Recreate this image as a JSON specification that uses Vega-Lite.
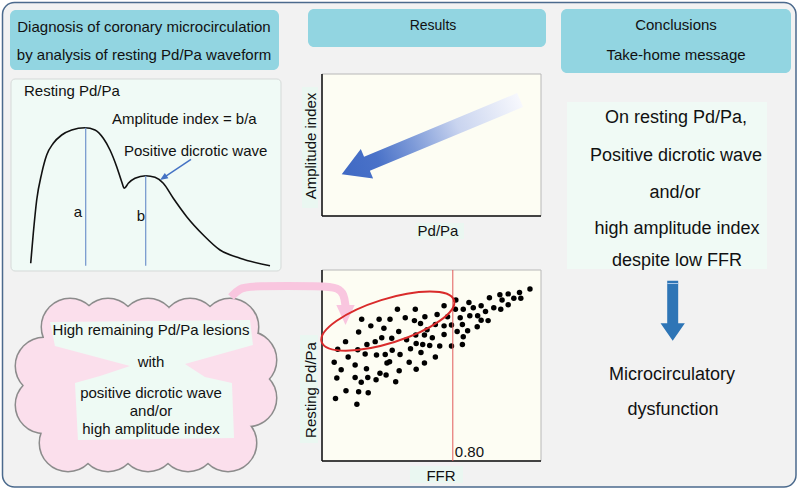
{
  "$schema": "https://vega.github.io/schema/vega-lite/v6.json",
  "width": 799,
  "height": 490,
  "autosize": {"type": "fit", "contains": "padding"},
  "padding": 0,
  "background": "#ffffff",
  "config": {"view": {"stroke": null}, "axis": {"disable": true}, "font": "Liberation Sans"},
  "resolve": {"scale": {"x": "independent", "y": "independent"}},
  "layer": [
    {
      "encoding": {
        "x": {"field": "x", "type": "quantitative", "axis": null, "scale": {"domain": [0, 799], "range": [0, 799], "nice": false, "zero": false}},
        "y": {"field": "y", "type": "quantitative", "axis": null, "scale": {"domain": [0, 490], "range": [0, 490], "nice": false, "zero": false}}
      },
      "layer": [
        {
          "data": {"values": [{"x": 2.5, "y": 2.5, "x2": 796, "y2": 487}]},
          "mark": {"type": "rect", "fill": "#f2f2f2", "stroke": "#4b6a8d", "strokeWidth": 1.5, "cornerRadius": 12},
          "encoding": {"x2": {"field": "x2"}, "y2": {"field": "y2"}}
        },
        {
          "data": {"values": [
            {"x": 10, "y": 10, "x2": 279, "y2": 70},
            {"x": 308, "y": 9, "x2": 546, "y2": 47},
            {"x": 561, "y": 9, "x2": 791, "y2": 73}
          ]},
          "mark": {"type": "rect", "fill": "#92d5e1", "cornerRadius": 6},
          "encoding": {"x2": {"field": "x2"}, "y2": {"field": "y2"}}
        },
        {
          "data": {"values": [{"x": 11, "y": 79, "x2": 281, "y2": 271}]},
          "mark": {"type": "rect", "fill": "#f0faf6", "stroke": "#d5d9d8", "strokeWidth": 1, "cornerRadius": 4},
          "encoding": {"x2": {"field": "x2"}, "y2": {"field": "y2"}}
        },
        {
          "data": {"values": [{"x": 567, "y": 102, "x2": 767, "y2": 269}]},
          "mark": {"type": "rect", "fill": "#f0faf5"},
          "encoding": {"x2": {"field": "x2"}, "y2": {"field": "y2"}}
        },
        {
          "data": {"values": [
            {"x": 322, "y": 74, "x2": 541, "y2": 216},
            {"x": 322, "y": 270, "x2": 541, "y2": 461}
          ]},
          "mark": {"type": "rect", "fill": "#fdfdf3", "stroke": "#b8b8b8", "strokeWidth": 1},
          "encoding": {"x2": {"field": "x2"}, "y2": {"field": "y2"}}
        },
        {
          "data": {"values": [
            {"x": 302, "y": 87, "x2": 318, "y2": 208},
            {"x": 416, "y": 223, "x2": 464, "y2": 239},
            {"x": 300, "y": 335, "x2": 318, "y2": 443},
            {"x": 410, "y": 466, "x2": 463, "y2": 483}
          ]},
          "mark": {"type": "rect", "fill": "#eaf7f1"},
          "encoding": {"x2": {"field": "x2"}, "y2": {"field": "y2"}}
        },
        {
          "data": {"values": [
            {"x": 322, "y": 74, "x2": 322, "y2": 216},
            {"x": 322, "y": 216, "x2": 541, "y2": 216},
            {"x": 322, "y": 270, "x2": 322, "y2": 461},
            {"x": 322, "y": 461, "x2": 541, "y2": 461}
          ]},
          "mark": {"type": "rule", "color": "#111111", "strokeWidth": 1.5},
          "encoding": {"x2": {"field": "x2"}, "y2": {"field": "y2"}}
        },
        {
          "data": {"values": [
            {"x": 30.7, "y": 263.3}, {"x": 33.3, "y": 233.3}, {"x": 36.7, "y": 200}, {"x": 41.7, "y": 173.3},
            {"x": 46.7, "y": 155}, {"x": 53.3, "y": 143.3}, {"x": 61.7, "y": 135}, {"x": 71.7, "y": 130},
            {"x": 85, "y": 127.7}, {"x": 95, "y": 130}, {"x": 103.3, "y": 138.3}, {"x": 110, "y": 150},
            {"x": 116.7, "y": 166.7}, {"x": 121.7, "y": 181.7}, {"x": 124.3, "y": 188.3}, {"x": 128.3, "y": 183.3},
            {"x": 135, "y": 178.3}, {"x": 145.7, "y": 175.7}, {"x": 155, "y": 177.3}, {"x": 163.3, "y": 183.3},
            {"x": 173.3, "y": 198.3}, {"x": 186.7, "y": 216.7}, {"x": 203.3, "y": 235}, {"x": 220, "y": 250},
            {"x": 240, "y": 258.3}, {"x": 270, "y": 265.7}
          ]},
          "mark": {"type": "line", "color": "#111111", "strokeWidth": 1.6, "interpolate": "monotone"},
          "encoding": {}
        },
        {
          "data": {"values": [
            {"x": 85.7, "y": 127.7, "x2": 85.7, "y2": 265.7},
            {"x": 145.7, "y": 175.7, "x2": 145.7, "y2": 265.7}
          ]},
          "mark": {"type": "rule", "color": "#7094cc", "strokeWidth": 1.2},
          "encoding": {"x2": {"field": "x2"}, "y2": {"field": "y2"}}
        },
        {
          "data": {"values": [{"x": 191, "y": 159.3, "x2": 163.3, "y2": 177.8}]},
          "mark": {"type": "rule", "color": "#4472c4", "strokeWidth": 1.5},
          "encoding": {"x2": {"field": "x2"}, "y2": {"field": "y2"}}
        },
        {
          "data": {"values": [{"x": 163.3, "y": 177.8}]},
          "mark": {"type": "point", "shape": "M0,-1 L0.8,1 L-0.8,1 Z", "size": 64, "angle": 236, "filled": true, "color": "#4472c4", "opacity": 1},
          "encoding": {}
        },
        {
          "data": {"values": [
            {"x": 70, "y": 327}, {"x": 108, "y": 327}, {"x": 148, "y": 327}, {"x": 190, "y": 327}, {"x": 230, "y": 327},
            {"x": 248, "y": 360}, {"x": 248, "y": 398},
            {"x": 228, "y": 443}, {"x": 188, "y": 443}, {"x": 148, "y": 443}, {"x": 108, "y": 443}, {"x": 68, "y": 443},
            {"x": 44, "y": 405}, {"x": 44, "y": 366}
          ]},
          "mark": {"type": "point", "shape": "circle", "size": 3136, "filled": true, "fill": "#fbdfec", "stroke": "#8c8c8c", "strokeWidth": 3, "opacity": 1},
          "encoding": {}
        },
        {
          "data": {"values": [
            {"x": 70, "y": 327}, {"x": 108, "y": 327}, {"x": 148, "y": 327}, {"x": 190, "y": 327}, {"x": 230, "y": 327},
            {"x": 248, "y": 360}, {"x": 248, "y": 398},
            {"x": 228, "y": 443}, {"x": 188, "y": 443}, {"x": 148, "y": 443}, {"x": 108, "y": 443}, {"x": 68, "y": 443},
            {"x": 44, "y": 405}, {"x": 44, "y": 366}
          ]},
          "mark": {"type": "point", "shape": "circle", "size": 3136, "filled": true, "fill": "#fbdfec", "strokeWidth": 0, "opacity": 1},
          "encoding": {}
        },
        {
          "data": {"values": [{"x": 44, "y": 327, "x2": 248, "y2": 443}]},
          "mark": {"type": "rect", "fill": "#fbdfec"},
          "encoding": {"x2": {"field": "x2"}, "y2": {"field": "y2"}}
        },
        {
          "data": {"values": [{"x": 150, "y": 380}]},
          "mark": {
            "type": "point",
            "shape": "M-0.909,-0.527 L0.909,-0.545 L0.936,-0.318 L0.318,-0.145 L0.5,-0.027 L0.745,0.027 L0.764,0.527 L-0.655,0.545 L-0.682,0.027 L-0.455,-0.036 L-0.182,-0.127 L-0.864,-0.309 Z",
            "size": 48400,
            "filled": true,
            "color": "#eefaf4",
            "strokeWidth": 0,
            "opacity": 1
          },
          "encoding": {}
        },
        {
          "data": {"values": [
            {"x": 231, "y": 297}, {"x": 240, "y": 288}, {"x": 250, "y": 286}, {"x": 325, "y": 286},
            {"x": 338, "y": 288}, {"x": 344, "y": 294}, {"x": 345.5, "y": 306}
          ]},
          "mark": {"type": "line", "color": "#f9c6df", "strokeWidth": 8, "interpolate": "basis", "strokeCap": "butt"},
          "encoding": {}
        },
        {
          "data": {"values": [{"x": 345.5, "y": 315}]},
          "mark": {"type": "point", "shape": "M-0.92,-1 L0.92,-1 L0,1 Z", "size": 400, "filled": true, "color": "#f9c6df", "opacity": 1},
          "encoding": {}
        },
        {
          "data": {"values": [{"x": 430.9, "y": 137.2}]},
          "mark": {
            "type": "point",
            "shape": "M-1,0 L-0.717,-0.166 L-0.717,-0.078 L1,-0.078 L1,0.078 L-0.717,0.078 L-0.717,0.166 Z",
            "size": 37326,
            "angle": 337.4,
            "filled": true,
            "strokeWidth": 0,
            "opacity": 1,
            "fill": {
              "gradient": "linear", "x1": 1, "y1": 0.5, "x2": 0, "y2": 0.5,
              "stops": [
                {"offset": 0, "color": "#f7f8fd"},
                {"offset": 0.35, "color": "#c9d4ef"},
                {"offset": 0.6, "color": "#7d9ad8"},
                {"offset": 0.8, "color": "#4a72c8"},
                {"offset": 1, "color": "#3f69c4"}
              ]
            }
          },
          "encoding": {}
        },
        {
          "data": {"values": [{"x": 672.7, "y": 310.7}]},
          "mark": {"type": "point", "shape": "M-0.183,-1 L0.183,-1 L0.183,0.42 L0.405,0.42 L0,1 L-0.405,0.42 L-0.183,0.42 Z", "size": 3600, "filled": true, "color": "#2e75b6", "opacity": 1},
          "encoding": {}
        },
        {
          "data": {"values": [{"x": 667.3, "y": 283.5, "x2": 678.3, "y2": 283.5}]},
          "mark": {"type": "rule", "color": "#a9c8e8", "strokeWidth": 1},
          "encoding": {"x2": {"field": "x2"}, "y2": {"field": "y2"}}
        },
        {
          "data": {"values": [
            {"x": 144, "y": 27, "text": "Diagnosis of coronary microcirculation"},
            {"x": 144, "y": 55, "text": "by analysis of resting Pd/Pa waveform"},
            {"x": 676, "y": 25, "text": "Conclusions"},
            {"x": 676, "y": 55, "text": "Take-home message"},
            {"x": 78, "y": 212, "text": "a"},
            {"x": 141, "y": 216, "text": "b"},
            {"x": 151, "y": 330, "text": "High remaining Pd/Pa lesions"},
            {"x": 151, "y": 362, "text": "with"},
            {"x": 151, "y": 393, "text": "positive dicrotic wave"},
            {"x": 151, "y": 411, "text": "and/or"},
            {"x": 151, "y": 429, "text": "high amplitude index"},
            {"x": 438, "y": 231, "text": "Pd/Pa"},
            {"x": 441, "y": 476, "text": "FFR"}
          ]},
          "mark": {"type": "text", "align": "center", "baseline": "middle", "fontSize": 15, "color": "#111111"},
          "encoding": {"text": {"field": "text"}}
        },
        {
          "data": {"values": [{"x": 433, "y": 26, "text": "Results"}]},
          "mark": {"type": "text", "align": "center", "baseline": "middle", "fontSize": 14, "color": "#111111"},
          "encoding": {"text": {"field": "text"}}
        },
        {
          "data": {"values": [
            {"x": 24, "y": 91, "text": "Resting Pd/Pa"},
            {"x": 112, "y": 119, "text": "Amplitude index = b/a"},
            {"x": 124, "y": 151, "text": "Positive dicrotic wave"}
          ]},
          "mark": {"type": "text", "align": "left", "baseline": "middle", "fontSize": 15, "color": "#111111"},
          "encoding": {"text": {"field": "text"}}
        },
        {
          "data": {"values": [
            {"x": 311, "y": 146, "text": "Amplitude index"},
            {"x": 311, "y": 390, "text": "Resting Pd/Pa"}
          ]},
          "mark": {"type": "text", "align": "center", "baseline": "middle", "fontSize": 15, "angle": 270, "color": "#111111"},
          "encoding": {"text": {"field": "text"}}
        },
        {
          "data": {"values": [
            {"x": 676, "y": 118, "text": "On resting Pd/Pa,"},
            {"x": 676, "y": 156, "text": "Positive dicrotic wave"},
            {"x": 675, "y": 193, "text": "and/or"},
            {"x": 677, "y": 229, "text": "high amplitude index"},
            {"x": 677, "y": 261, "text": "despite low FFR"},
            {"x": 672, "y": 375, "text": "Microcirculatory"},
            {"x": 673, "y": 410, "text": "dysfunction"}
          ]},
          "mark": {"type": "text", "align": "center", "baseline": "middle", "fontSize": 18, "color": "#111111"},
          "encoding": {"text": {"field": "text"}}
        }
      ]
    },
    {
      "encoding": {
        "x": {"field": "ffr", "type": "quantitative", "axis": null, "scale": {"domain": [0.5, 1.0], "range": [322, 540], "nice": false, "zero": false}},
        "y": {"field": "pdpa", "type": "quantitative", "axis": null, "scale": {"domain": [0.6, 1.0], "range": [461, 270], "nice": false, "zero": false}}
      },
      "layer": [
        {
          "data": {"values": [
            {"ffr": 0.977, "pdpa": 0.960}, {"ffr": 0.953, "pdpa": 0.953}, {"ffr": 0.956, "pdpa": 0.941}, {"ffr": 0.927, "pdpa": 0.950},
            {"ffr": 0.940, "pdpa": 0.941}, {"ffr": 0.908, "pdpa": 0.948}, {"ffr": 0.913, "pdpa": 0.937}, {"ffr": 0.884, "pdpa": 0.942},
            {"ffr": 0.927, "pdpa": 0.927}, {"ffr": 0.910, "pdpa": 0.918}, {"ffr": 0.894, "pdpa": 0.921}, {"ffr": 0.865, "pdpa": 0.925},
            {"ffr": 0.875, "pdpa": 0.913}, {"ffr": 0.881, "pdpa": 0.894}, {"ffr": 0.847, "pdpa": 0.921}, {"ffr": 0.837, "pdpa": 0.932},
            {"ffr": 0.824, "pdpa": 0.918}, {"ffr": 0.857, "pdpa": 0.904}, {"ffr": 0.865, "pdpa": 0.895}, {"ffr": 0.839, "pdpa": 0.904},
            {"ffr": 0.807, "pdpa": 0.937}, {"ffr": 0.806, "pdpa": 0.918}, {"ffr": 0.817, "pdpa": 0.900}, {"ffr": 0.788, "pdpa": 0.902},
            {"ffr": 0.822, "pdpa": 0.886}, {"ffr": 0.856, "pdpa": 0.881}, {"ffr": 0.834, "pdpa": 0.873}, {"ffr": 0.810, "pdpa": 0.871},
            {"ffr": 0.824, "pdpa": 0.860}, {"ffr": 0.822, "pdpa": 0.844}, {"ffr": 0.797, "pdpa": 0.885}, {"ffr": 0.797, "pdpa": 0.841},
            {"ffr": 0.780, "pdpa": 0.925}, {"ffr": 0.764, "pdpa": 0.907}, {"ffr": 0.760, "pdpa": 0.886}, {"ffr": 0.780, "pdpa": 0.883},
            {"ffr": 0.780, "pdpa": 0.865}, {"ffr": 0.770, "pdpa": 0.841}, {"ffr": 0.753, "pdpa": 0.858}, {"ffr": 0.747, "pdpa": 0.842},
            {"ffr": 0.760, "pdpa": 0.818}, {"ffr": 0.736, "pdpa": 0.902}, {"ffr": 0.726, "pdpa": 0.888}, {"ffr": 0.741, "pdpa": 0.875},
            {"ffr": 0.735, "pdpa": 0.864}, {"ffr": 0.731, "pdpa": 0.844}, {"ffr": 0.714, "pdpa": 0.918}, {"ffr": 0.691, "pdpa": 0.900},
            {"ffr": 0.712, "pdpa": 0.894}, {"ffr": 0.715, "pdpa": 0.864}, {"ffr": 0.676, "pdpa": 0.871}, {"ffr": 0.673, "pdpa": 0.918},
            {"ffr": 0.656, "pdpa": 0.897}, {"ffr": 0.642, "pdpa": 0.878}, {"ffr": 0.631, "pdpa": 0.897}, {"ffr": 0.612, "pdpa": 0.883},
            {"ffr": 0.591, "pdpa": 0.897}, {"ffr": 0.584, "pdpa": 0.870}, {"ffr": 0.660, "pdpa": 0.857}, {"ffr": 0.637, "pdpa": 0.858},
            {"ffr": 0.622, "pdpa": 0.850}, {"ffr": 0.603, "pdpa": 0.844}, {"ffr": 0.694, "pdpa": 0.854}, {"ffr": 0.716, "pdpa": 0.846},
            {"ffr": 0.727, "pdpa": 0.827}, {"ffr": 0.679, "pdpa": 0.823}, {"ffr": 0.700, "pdpa": 0.807}, {"ffr": 0.716, "pdpa": 0.792},
            {"ffr": 0.735, "pdpa": 0.805}, {"ffr": 0.677, "pdpa": 0.789}, {"ffr": 0.655, "pdpa": 0.808}, {"ffr": 0.649, "pdpa": 0.805},
            {"ffr": 0.645, "pdpa": 0.823}, {"ffr": 0.625, "pdpa": 0.822}, {"ffr": 0.599, "pdpa": 0.824}, {"ffr": 0.582, "pdpa": 0.833},
            {"ffr": 0.560, "pdpa": 0.818}, {"ffr": 0.536, "pdpa": 0.834}, {"ffr": 0.554, "pdpa": 0.850}, {"ffr": 0.528, "pdpa": 0.807},
            {"ffr": 0.576, "pdpa": 0.801}, {"ffr": 0.602, "pdpa": 0.793}, {"ffr": 0.544, "pdpa": 0.791}, {"ffr": 0.534, "pdpa": 0.774},
            {"ffr": 0.576, "pdpa": 0.775}, {"ffr": 0.605, "pdpa": 0.775}, {"ffr": 0.590, "pdpa": 0.765}, {"ffr": 0.633, "pdpa": 0.784},
            {"ffr": 0.647, "pdpa": 0.780}, {"ffr": 0.624, "pdpa": 0.770}, {"ffr": 0.669, "pdpa": 0.766}, {"ffr": 0.555, "pdpa": 0.747},
            {"ffr": 0.584, "pdpa": 0.745}, {"ffr": 0.606, "pdpa": 0.743}, {"ffr": 0.531, "pdpa": 0.731}, {"ffr": 0.580, "pdpa": 0.719},
            {"ffr": 0.661, "pdpa": 0.832}, {"ffr": 0.703, "pdpa": 0.835}
          ]},
          "mark": {"type": "point", "shape": "circle", "filled": true, "color": "#000000", "size": 30, "opacity": 1},
          "encoding": {}
        },
        {
          "data": {"values": [{"ffr": 0.8, "pdpa": 0.6, "pdpa2": 1.0}]},
          "mark": {"type": "rule", "color": "#e25a5a", "strokeWidth": 1},
          "encoding": {"y2": {"field": "pdpa2"}}
        },
        {
          "data": {"values": [{"ffr": 0.651, "pdpa": 0.893}]},
          "mark": {"type": "point", "shape": "M-1,0 A1,0.317 0 1,1 1,0 A1,0.317 0 1,1 -1,0 Z", "size": 19265, "angle": 342.5, "filled": false, "color": "#d92b2b", "strokeWidth": 2, "opacity": 1},
          "encoding": {}
        },
        {
          "data": {"values": [{"ffr": 0.8, "pdpa": 0.6, "label": "0.80"}]},
          "mark": {"type": "text", "align": "left", "baseline": "bottom", "dx": 2, "dy": -1, "fontSize": 15, "color": "#111111"},
          "encoding": {"text": {"field": "label"}}
        }
      ]
    }
  ]
}
